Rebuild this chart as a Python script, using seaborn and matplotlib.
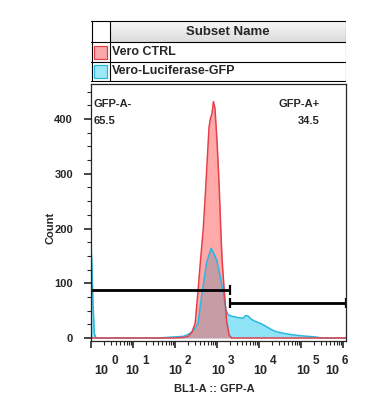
import numpy as np
import pandas as pd
import matplotlib
matplotlib.use('Agg')
import matplotlib.pyplot as plt
from matplotlib.patches import Rectangle
from matplotlib.ticker import MultipleLocator, LogLocator, NullFormatter
from matplotlib.transforms import blended_transform_factory, offset_copy
import seaborn as sns

# Data (x as log10 of BL1-A :: GFP-A)
ctrl_log = [0.0, 2.0, 2.2, 2.31, 2.4, 2.48, 2.55, 2.61, 2.67, 2.72, 2.77, 2.81, 2.84,
            2.88, 2.915, 2.95, 3.0, 3.05, 3.09, 3.12, 3.17, 3.23, 3.29, 3.35, 6.07]
ctrl_count = [0, 0, 1, 3, 10, 27, 88, 145, 197, 260, 330, 385, 400,
              410, 432, 420, 360, 280, 197, 143, 88, 30, 5, 0, 0]

gfp_log = [0.0, 0.02, 0.05, 0.08, 0.12, 1.6, 1.8, 2.0, 2.2, 2.35, 2.45, 2.55, 2.63,
           2.69, 2.75, 2.8, 2.86, 2.92, 2.99, 3.06, 3.14, 3.21, 3.27, 3.35, 3.45,
           3.52, 3.62, 3.68, 3.74, 3.82, 3.92, 4.05, 4.15, 4.28, 4.39, 4.55, 4.78,
           5.0, 5.33, 5.5, 6.07]
gfp_count = [168, 140, 60, 8, 0, 0, 1, 2, 3, 8, 15, 27, 75,
             106, 137, 150, 164, 155, 143, 118, 88, 51, 42, 40, 38,
             37, 36, 41, 40, 34, 30, 26, 22, 16, 12, 9, 6,
             4, 2, 0, 0]

subset_names = ['Vero CTRL', 'Vero-Luciferase-GFP']
gate_names = ['GFP-A-', 'GFP-A+']
gate_pct = ['65.5', '34.5']
gate_x = [[0.0, 3.31], [3.31, 6.07]]   # log10 bounds
gate_y = [88, 64]
decades = [0, 1, 2, 3, 4, 5, 6]

ctrl = pd.DataFrame({'x': np.power(10.0, ctrl_log), 'count': ctrl_count})
gfp = pd.DataFrame({'x': np.power(10.0, gfp_log), 'count': gfp_count})

sns.set_style('ticks')
plt.rcParams['font.family'] = ['Liberation Sans', 'DejaVu Sans']
plt.rcParams['font.weight'] = 'bold'

W, H = 367, 412
fig = plt.figure(figsize=(W / 100, H / 100), dpi=100)


def px(x, y):
    return x / W, 1 - y / H


ax = fig.add_axes([91 / W, 1 - 341 / H, (346 - 91) / W, (341 - 84) / H])

red_line, red_fill = '#e3404a', '#ff5555'
cyan_line, cyan_fill = '#2cb6e0', '#8fe4f7'

ax.fill_between(gfp['x'], gfp['count'], color=cyan_fill, lw=0)
sns.lineplot(data=gfp, x='x', y='count', ax=ax, color=cyan_line, lw=1.1,
             estimator=None, sort=False)
ax.fill_between(ctrl['x'], ctrl['count'], color=red_fill, alpha=0.5, lw=0)
sns.lineplot(data=ctrl, x='x', y='count', ax=ax, color=red_line, lw=1.1,
             estimator=None, sort=False)

# gates
for (x0, x1), gy in zip(gate_x, gate_y):
    xs = [10 ** x0, 10 ** x1]
    ax.plot(xs, [gy, gy], color='black', lw=2, solid_capstyle='butt')
    ax.vlines(xs, gy - 9, gy + 9, color='black', lw=1.6)

ax.set_xscale('log')
ax.set_xlim(1, 10 ** 6.07)
ax.set_ylim(-5.5, 464)
ax.set_xticks([10.0 ** d for d in decades])
ax.xaxis.set_minor_locator(LogLocator(base=10, subs=np.arange(2, 10)))
ax.xaxis.set_major_formatter(NullFormatter())
ax.xaxis.set_minor_formatter(NullFormatter())
ax.set_yticks([0, 100, 200, 300, 400])
ax.yaxis.set_minor_locator(MultipleLocator(25))
ax.tick_params(axis='both', which='major', length=5, width=1.2, direction='out',
               labelsize=8, pad=8)
ax.tick_params(axis='both', which='minor', length=3, width=0.8, direction='out')
ax.tick_params(axis='x', which='major', pad=2)
for lab in ax.get_yticklabels():
    lab.set_fontweight('bold')
ax.set_xlabel('')
ax.set_ylabel('')
for s in ax.spines.values():
    s.set_visible(True)
    s.set_linewidth(0.9)

# x decade labels, FlowJo style
trans = blended_transform_factory(ax.transData, ax.transAxes)
offsets = [17, 6, 7, 8, 8, 9, -4]
for d, off in zip(decades, offsets):
    t1 = offset_copy(trans, fig=fig, x=off, y=-33, units='dots')
    ax.text(10.0 ** d, 0, '10', transform=t1, ha='right', va='baseline',
            fontsize=9, fontweight='bold', clip_on=False)
    t2 = offset_copy(trans, fig=fig, x=off + 3, y=-23, units='dots')
    ax.text(10.0 ** d, 0, str(d), transform=t2, ha='left', va='baseline',
            fontsize=8.5, fontweight='bold', clip_on=False)

fig.text(*px(214, 389), 'BL1-A :: GFP-A', ha='center', va='center',
         fontsize=8, fontweight='bold')
fig.text(*px(50, 228), 'Count', ha='center', va='center', rotation=90,
         fontsize=8, fontweight='bold')

# gate stats
fig.text(*px(94, 107), gate_names[0], ha='left', va='baseline', fontsize=8, fontweight='bold')
fig.text(*px(94, 124), gate_pct[0], ha='left', va='baseline', fontsize=8, fontweight='bold')
fig.text(*px(320, 107), gate_names[1], ha='right', va='baseline', fontsize=8, fontweight='bold')
fig.text(*px(320, 124), gate_pct[1], ha='right', va='baseline', fontsize=8, fontweight='bold')

# legend table
tb = fig.add_axes([91 / W, 1 - 82 / H, (346 - 91) / W, (82 - 20) / H])
tb.set_xlim(91, 346)
tb.set_ylim(82, 20)
tb.axis('off')
grad = np.linspace(0.97, 0.86, 30).reshape(-1, 1)
tb.imshow(grad, cmap='gray', vmin=0, vmax=1, extent=[110, 346, 42, 21],
          aspect='auto', zorder=0)
rows = [21, 42, 62, 81]
for y in rows:
    tb.plot([91, 346], [y, y], color='black', lw=0.8)
tb.plot([91.5, 91.5], [21, 81], color='black', lw=0.8)
tb.plot([345.5, 345.5], [21, 81], color='black', lw=0.8)
tb.plot([110, 110], [21, 81], color='black', lw=0.8)
tb.text(228, 32, 'Subset Name', ha='center', va='center', fontsize=9.5, fontweight='bold')
swatches = [(red_line, '#f9a9aa'), (cyan_line, '#9ee8f8')]
for i, (name, (ec, fc)) in enumerate(zip(subset_names, swatches)):
    yc = (rows[i + 1] + rows[i + 2]) / 2
    tb.add_patch(Rectangle((94, yc - 6.5), 13, 13, facecolor=fc, edgecolor=ec, lw=0.9))
    tb.text(112, yc, name, ha='left', va='center', fontsize=9, fontweight='bold')

fig.savefig('out.png', dpi=100)
